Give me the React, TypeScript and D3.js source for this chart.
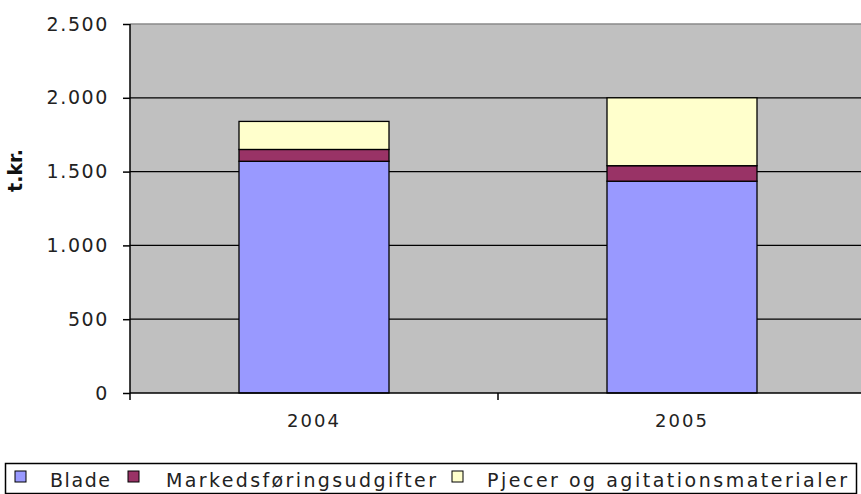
import React, { useRef, useEffect } from 'react';
import * as d3 from 'd3';

const years = ['2004', '2005'];
const series = ['Blade', 'Markedsføringsudgifter', 'Pjecer og agitationsmaterialer'];
const blade = [1570, 1435];
const markedsforing = [80, 105];
const pjecer = [190, 460];
const yTicks = [0, 500, 1000, 1500, 2000, 2500];
const colors = ['#9999FF', '#993366', '#FFFFCC'];

const W = 861;
const H = 494;
const FONT = '"DejaVu Sans", Verdana, sans-serif';

const App = () => {
  const svgRef = useRef<SVGSVGElement>(null);

  useEffect(() => {
    const svg = d3.select(svgRef.current);
    svg.selectAll('*').remove();

    const left = 130, right = 866, top = 24, bottom = 393;

    const x = d3.scaleBand().domain(years).range([left, right]).paddingInner(0).paddingOuter(0);
    const y = d3.scaleLinear().domain([0, 2500]).range([bottom, top]);

    svg.append('rect').attr('width', W).attr('height', H).attr('fill', '#fff');

    svg.append('rect')
      .attr('x', left).attr('y', top)
      .attr('width', right - left).attr('height', bottom - top)
      .attr('fill', '#C0C0C0');

    // gridlines
    svg.append('g')
      .selectAll('line')
      .data(yTicks.filter((d) => d > 0))
      .enter()
      .append('line')
      .attr('x1', left).attr('x2', right)
      .attr('y1', (d) => y(d)).attr('y2', (d) => y(d))
      .attr('stroke', (d) => (d === 2500 ? '#8a8a8a' : '#000'))
      .attr('stroke-width', 1.3);

    const table = years.map((yr, i) => ({ year: yr, s0: blade[i], s1: markedsforing[i], s2: pjecer[i] }));
    const stacked = d3.stack<any>().keys(['s0', 's1', 's2'])(table);

    const barW = 150;
    svg.append('g')
      .selectAll('g')
      .data(stacked)
      .enter()
      .append('g')
      .attr('fill', (d, i) => colors[i])
      .selectAll('rect')
      .data((d) => d)
      .enter()
      .append('rect')
      .attr('x', (d: any) => (x(d.data.year) as number) + x.bandwidth() / 2 - barW / 2)
      .attr('y', (d) => y(d[1]))
      .attr('width', barW)
      .attr('height', (d) => y(d[0]) - y(d[1]))
      .attr('stroke', '#000')
      .attr('stroke-width', 1.3);

    // y axis
    const yAxis = svg.append('g')
      .attr('transform', `translate(${left},0)`)
      .call(d3.axisLeft(y).tickValues(yTicks).tickSize(7).tickPadding(14)
        .tickFormat((d) => d3.format(',')(d as number).replace(/,/g, '.')));
    yAxis.select('.domain').attr('stroke', '#000').attr('stroke-width', 1.5).attr('d', `M0,${top}V${bottom}`);
    yAxis.selectAll('.tick line').attr('stroke', '#000').attr('stroke-width', 1.5);
    yAxis.selectAll('.tick text')
      .attr('fill', '#222').style('font-family', FONT).style('font-size', '19px').style('letter-spacing', '1.6px');

    // x axis
    const xAxis = svg.append('g')
      .attr('transform', `translate(0,${bottom})`)
      .call(d3.axisBottom(x).tickSize(0).tickPadding(21));
    xAxis.select('.domain').attr('stroke', '#000').attr('stroke-width', 1.5).attr('d', `M${left},0H${right}`);
    xAxis.selectAll('.tick text')
      .attr('fill', '#222').style('font-family', FONT).style('font-size', '18px').style('letter-spacing', '2px');
    xAxis.append('g')
      .selectAll('line')
      .data([left, left + x.bandwidth()])
      .enter()
      .append('line')
      .attr('x1', (d) => d).attr('x2', (d) => d)
      .attr('y1', 0).attr('y2', 7)
      .attr('stroke', '#000').attr('stroke-width', 1.5);

    // y label
    svg.append('text')
      .attr('transform', `translate(22,${(top + bottom) / 2 - 38}) rotate(-90)`)
      .attr('text-anchor', 'middle')
      .style('font-family', FONT).style('font-size', '19px').style('font-weight', 'bold')
      .attr('fill', '#111')
      .text('t.kr.');

    // legend
    const lg = svg.append('g');
    lg.append('rect')
      .attr('x', 5.5).attr('y', 463.5).attr('width', 851).attr('height', 30)
      .attr('fill', '#fff').attr('stroke', '#000').attr('stroke-width', 1.5);
    const items = [
      { sq: 15, tx: 50, len: 60 },
      { sq: 128, tx: 166, len: 270 },
      { sq: 452, tx: 487, len: 360 },
    ];
    items.forEach((it, i) => {
      lg.append('rect')
        .attr('x', it.sq).attr('y', 471).attr('width', 11).attr('height', 11)
        .attr('fill', colors[i]).attr('stroke', '#000').attr('stroke-width', 1);
      lg.append('text')
        .attr('x', it.tx).attr('y', 487)
        .attr('textLength', it.len).attr('lengthAdjust', 'spacing')
        .style('font-family', FONT).style('font-size', '19px')
        .attr('fill', '#222')
        .text(series[i]);
    });
  }, []);

  return (
    <svg ref={svgRef} width={W} height={H} style={{ position: 'absolute', left: 0, top: 0, display: 'block' }}></svg>
  );
};

export default App;
